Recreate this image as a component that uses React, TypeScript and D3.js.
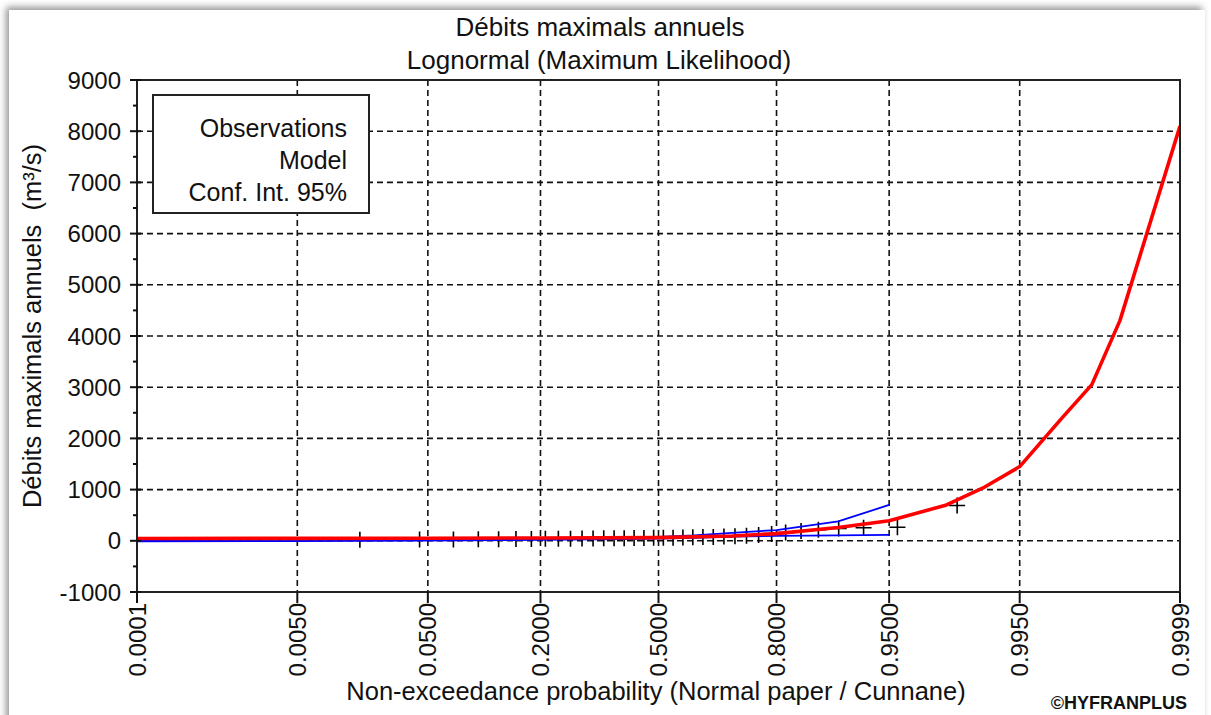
import React, { useEffect, useRef } from 'react';
import * as d3 from 'd3';

const W = 1211, H = 715;

// x axis: non-exceedance probability on normal paper
const probTicks = [0.0001, 0.005, 0.05, 0.2, 0.5, 0.8, 0.95, 0.995, 0.9999];
const probTickLabels = ['0.0001', '0.0050', '0.0500', '0.2000', '0.5000', '0.8000', '0.9500', '0.9950', '0.9999'];
const flowTicks = [-1000, 0, 1000, 2000, 3000, 4000, 5000, 6000, 7000, 8000, 9000];

// observations (Cunnane plotting positions, n = 36)
const obsProb = [
  0.0166, 0.0442, 0.0718, 0.0994, 0.1271, 0.1547, 0.1823, 0.2099, 0.2376,
  0.2652, 0.2928, 0.3204, 0.3481, 0.3757, 0.4033, 0.4309, 0.4586, 0.4862,
  0.5138, 0.5414, 0.5691, 0.5967, 0.6243, 0.6519, 0.6796, 0.7072, 0.7348,
  0.7624, 0.7901, 0.8177, 0.8453, 0.8729, 0.9006, 0.9282, 0.9558, 0.9834
];
const obsFlow = [
  20, 24, 27, 30, 32, 34, 36, 38, 40,
  42, 44, 46, 48, 50, 52, 54, 56, 58,
  60, 62, 65, 68, 72, 76, 82, 90, 100,
  115, 135, 160, 190, 215, 240, 255, 265, 690
];

// fitted lognormal model
const modelProb = [0.0001, 0.005, 0.05, 0.2, 0.5, 0.7, 0.8, 0.9, 0.95, 0.98, 0.99, 0.995, 0.998, 0.999, 0.9995, 0.9999];
const modelFlow = [45, 48, 50, 55, 62, 95, 140, 260, 390, 700, 1050, 1450, 2400, 3050, 4300, 8100];

// 95% confidence interval
const ciProb = [0.0001, 0.005, 0.05, 0.2, 0.4, 0.5, 0.6, 0.7, 0.8, 0.9, 0.95];
const ciUpper = [15, 20, 30, 40, 55, 75, 105, 155, 210, 380, 700];
const ciLower = [-10, -5, 5, 20, 35, 45, 60, 80, 95, 105, 115];

const legendItems = ['Observations', 'Model', 'Conf. Int. 95%'];

// inverse of the standard normal cdf (Acklam)
function probit(p: number): number {
  const a = [-39.69683028665376, 220.9460984245205, -275.9285104469687, 138.357751867269, -30.66479806614716, 2.506628277459239];
  const b = [-54.47609879822406, 161.5858368580409, -155.6989798598866, 66.80131188771972, -13.28068155288572];
  const c = [-0.007784894002430293, -0.3223964580411365, -2.400758277161838, -2.549732539343734, 4.374664141464968, 2.938163982698783];
  const d = [0.007784695709041462, 0.3224671290700398, 2.445134137142996, 3.754408661907416];
  const pl = 0.02425;
  let q, r;
  if (p < pl) {
    q = Math.sqrt(-2 * Math.log(p));
    return (((((c[0] * q + c[1]) * q + c[2]) * q + c[3]) * q + c[4]) * q + c[5]) / ((((d[0] * q + d[1]) * q + d[2]) * q + d[3]) * q + 1);
  }
  if (p > 1 - pl) {
    q = Math.sqrt(-2 * Math.log(1 - p));
    return -(((((c[0] * q + c[1]) * q + c[2]) * q + c[3]) * q + c[4]) * q + c[5]) / ((((d[0] * q + d[1]) * q + d[2]) * q + d[3]) * q + 1);
  }
  q = p - 0.5;
  r = q * q;
  return (((((a[0] * r + a[1]) * r + a[2]) * r + a[3]) * r + a[4]) * r + a[5]) * q / (((((b[0] * r + b[1]) * r + b[2]) * r + b[3]) * r + b[4]) * r + 1);
}

const FONT = '"Liberation Sans", Arial, sans-serif';

export default function App() {
  const ref = useRef<SVGSVGElement>(null);

  useEffect(() => {
    const svg = d3.select(ref.current);
    svg.selectAll('*').remove();

    const left = 137, right = 1180, top = 80, bottom = 592;

    const zScale = d3.scaleLinear()
      .domain([probit(0.0001), probit(0.9999)])
      .range([left, right]);
    const x = (p: number) => zScale(probit(p));
    const y = d3.scaleLinear().domain([-1000, 9000]).range([bottom, top]);

    // panel with shadow
    const defs = svg.append('defs');
    const f = defs.append('filter').attr('id', 'shadow')
      .attr('x', '-5%').attr('y', '-5%').attr('width', '110%').attr('height', '110%');
    f.append('feDropShadow')
      .attr('dx', -3).attr('dy', -3).attr('stdDeviation', 3.5)
      .attr('flood-color', '#000').attr('flood-opacity', 0.42);
    defs.append('clipPath').attr('id', 'plotclip')
      .append('rect').attr('x', left).attr('y', top)
      .attr('width', right - left).attr('height', bottom - top);

    svg.append('rect').attr('width', W).attr('height', H).attr('fill', '#fff');
    svg.append('rect')
      .attr('x', 9).attr('y', 10).attr('width', 1196).attr('height', 730)
      .attr('fill', '#fff').attr('filter', 'url(#shadow)');

    // grid
    const grid = svg.append('g')
      .attr('stroke', '#111').attr('stroke-width', 1.6).attr('stroke-dasharray', '6,4');
    grid.selectAll('.hg')
      .data(flowTicks.filter(v => v > -1000 && v < 9000))
      .enter().append('line')
      .attr('x1', left).attr('x2', right)
      .attr('y1', d => y(d)).attr('y2', d => y(d));
    grid.selectAll('.vg')
      .data(probTicks.slice(1, -1))
      .enter().append('line')
      .attr('y1', top).attr('y2', bottom)
      .attr('x1', d => x(d)).attr('x2', d => x(d));

    const plot = svg.append('g').attr('clip-path', 'url(#plotclip)');

    // observations
    plot.selectAll('.obs')
      .data(obsProb.map((p, i) => [p, obsFlow[i]]))
      .enter().append('path')
      .attr('d', 'M-8,0H8M0,-8V8')
      .attr('transform', d => `translate(${x(d[0])},${y(d[1])})`)
      .attr('stroke', '#000').attr('stroke-width', 1.6).attr('fill', 'none');

    // confidence interval
    const ciLine = d3.line<[number, number]>()
      .x(d => x(d[0])).y(d => y(d[1]));
    [ciUpper, ciLower].forEach(vals => {
      plot.append('path')
        .attr('d', ciLine(ciProb.map((p, i) => [p, vals[i]]) as [number, number][]))
        .attr('fill', 'none').attr('stroke', '#0000ff').attr('stroke-width', 1.8);
    });

    // model
    plot.append('path')
      .attr('d', ciLine(modelProb.map((p, i) => [p, modelFlow[i]]) as [number, number][]))
      .attr('fill', 'none').attr('stroke', '#ff0000').attr('stroke-width', 3.6)
      .attr('stroke-linejoin', 'round');

    // frame
    svg.append('rect')
      .attr('x', left).attr('y', top).attr('width', right - left).attr('height', bottom - top)
      .attr('fill', 'none').attr('stroke', '#222').attr('stroke-width', 2);

    // y ticks
    const yAx = svg.append('g').attr('stroke', '#111').attr('stroke-width', 2);
    yAx.selectAll('.mj').data(flowTicks).enter().append('line')
      .attr('x1', left - 7).attr('x2', left + 4)
      .attr('y1', d => y(d)).attr('y2', d => y(d));
    yAx.selectAll('.mn').data(flowTicks.slice(0, -1).map(v => v + 500)).enter().append('line')
      .attr('x1', left - 4).attr('x2', left)
      .attr('y1', d => y(d)).attr('y2', d => y(d));
    svg.append('g').selectAll('text').data(flowTicks).enter().append('text')
      .attr('x', 121).attr('y', d => y(d)).attr('dy', '0.36em')
      .attr('text-anchor', 'end').attr('font-family', FONT).attr('font-size', 24)
      .attr('fill', '#111')
      .text(d => d);

    // x ticks
    svg.append('g').attr('stroke', '#111').attr('stroke-width', 2)
      .selectAll('line').data(probTicks).enter().append('line')
      .attr('x1', d => x(d)).attr('x2', d => x(d))
      .attr('y1', bottom).attr('y2', bottom + 11);
    svg.append('g').selectAll('text').data(probTicks).enter().append('text')
      .attr('transform', d => `translate(${x(d)},${bottom + 11}) rotate(-90)`)
      .attr('dy', '0.36em').attr('text-anchor', 'end')
      .attr('font-family', FONT).attr('font-size', 24).attr('fill', '#111')
      .text((d, i) => probTickLabels[i]);

    // titles
    const txt = (s: string, tx: number, ty: number, size: number, rot = 0) =>
      svg.append('text')
        .attr('transform', `translate(${tx},${ty}) rotate(${rot})`)
        .attr('text-anchor', 'middle').attr('font-family', FONT)
        .attr('font-size', size).attr('fill', '#111')
        .style('white-space', 'pre')
        .text(s);
    txt('Débits maximals annuels', 600, 36, 26);
    txt('Lognormal (Maximum Likelihood)', 599, 69, 26);
    txt('Non-exceedance probability (Normal paper / Cunnane)', 656, 700, 25.5);
    txt('Débits maximals annuels  (m³/s)', 41, 326, 25.5, -90);

    svg.append('text')
      .attr('x', 1187).attr('y', 709).attr('text-anchor', 'end')
      .attr('font-family', FONT).attr('font-size', 18).attr('font-weight', 'bold')
      .attr('fill', '#111')
      .text('©HYFRANPLUS');

    // legend
    const lg = svg.append('g');
    lg.append('rect')
      .attr('x', 153).attr('y', 95).attr('width', 216).attr('height', 118)
      .attr('fill', '#fff').attr('stroke', '#222').attr('stroke-width', 2);
    lg.selectAll('text').data(legendItems).enter().append('text')
      .attr('x', 347).attr('y', (d, i) => 137 + i * 32)
      .attr('text-anchor', 'end').attr('font-family', FONT).attr('font-size', 25)
      .attr('fill', '#111')
      .text(d => d);
  }, []);

  return (
    <svg ref={ref} width={W} height={H}
      style={{ position: 'absolute', left: 0, top: 0, display: 'block' }} />
  );
}
